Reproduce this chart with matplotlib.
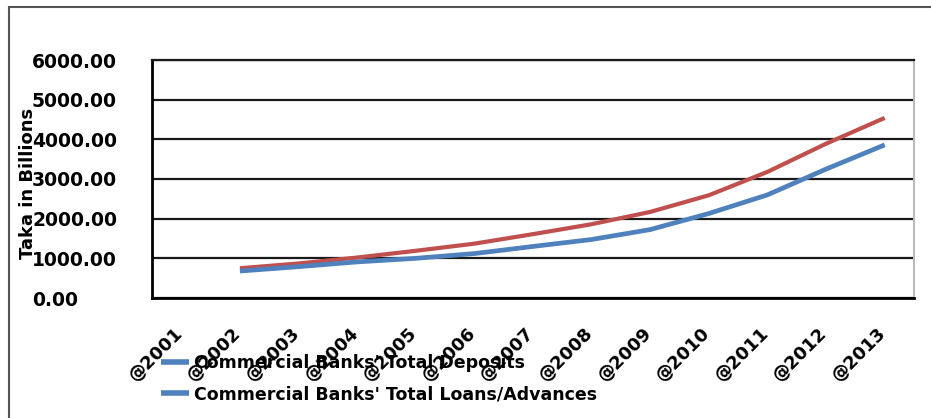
import numpy as np
import matplotlib
matplotlib.use("Agg")
import matplotlib.pyplot as plt
import matplotlib.transforms as mtransforms
from matplotlib.patches import Rectangle

years = ["@2001", "@2002", "@2003", "@2004", "@2005", "@2006", "@2007",
         "@2008", "@2009", "@2010", "@2011", "@2012", "@2013"]
deposits = [np.nan, 750, 870, 1020, 1190, 1370, 1610, 1860, 2170, 2590, 3180, 3890, 4540]
loans = [np.nan, 680, 790, 910, 1000, 1120, 1300, 1475, 1725, 2130, 2600, 3250, 3860]
series_labels = ["Commercial Banks' Total Deposits", "Commercial Banks' Total Loans/Advances"]
yticks = [0, 1000, 2000, 3000, 4000, 5000, 6000]

W, H = 931, 418
fig = plt.figure(figsize=(W / 100, H / 100), dpi=100)
plt.rcParams['font.family'] = ['DejaVu Sans']

# outer frame
fig.patches.append(Rectangle((8.5 / W, -0.1), 1.2, (H - 6.5) / H + 0.1,
                             transform=fig.transFigure, fill=False,
                             edgecolor='#555555', linewidth=1.5))

ax = fig.add_axes([152 / W, 1 - 298 / H, (914 - 152) / W, (298 - 60) / H])
x = np.arange(len(years))
red = '#C0504D'
blue = '#4F81BD'
l1, = ax.plot(x, deposits, color=red, lw=3.0, solid_capstyle='butt', zorder=3, label=series_labels[0])
l2, = ax.plot(x, loans, color=blue, lw=3.4, solid_capstyle='butt', zorder=4, label=series_labels[1])

ax.set_xlim(-0.5, len(years) - 0.5)
ax.set_ylim(0, 6000)
ax.set_yticks(yticks)
ax.set_yticklabels([f"{v:.2f}" for v in yticks], fontsize=13.5, fontweight='bold', ha='left')
ax.tick_params(axis='y', length=0, pad=(152 - 32) * 0.72)
ax.set_xticks(x)
ax.set_xticklabels(years, rotation=45, ha='right', va='top', fontsize=13, fontweight='bold')
ax.tick_params(axis='x', length=0, pad=26 * 0.72)
offset = mtransforms.ScaledTranslation(5 / 100, 0, fig.dpi_scale_trans)
for lab in ax.get_xticklabels():
    lab.set_transform(lab.get_transform() + offset)

ax.grid(axis='y', color='#1a1a1a', lw=1.6, zorder=1)
ax.set_axisbelow(True)
ax.spines['left'].set_color('black')
ax.spines['left'].set_linewidth(2)
ax.spines['bottom'].set_color('black')
ax.spines['bottom'].set_linewidth(2)
ax.spines['top'].set_color('#1a1a1a')
ax.spines['top'].set_linewidth(1.6)
ax.spines['right'].set_color('#bbbbbb')
ax.spines['right'].set_linewidth(1.5)

fig.text(28 / W, 1 - 183 / H, "Taka in Billions", rotation=90, ha='center', va='center',
         fontsize=13, fontweight='bold')

leg = fig.legend(handles=[l1, l2], labels=series_labels, loc='center left',
                 bbox_to_anchor=(161 / W, 1 - 379 / H), frameon=False,
                 prop={'size': 12.5, 'weight': 'bold'}, handlelength=1.6,
                 handletextpad=0.3, labelspacing=0.75, borderpad=0, borderaxespad=0)
for h in leg.get_lines():
    h.set_color(blue)
    h.set_linewidth(4)

fig.savefig("out.png", dpi=100)
